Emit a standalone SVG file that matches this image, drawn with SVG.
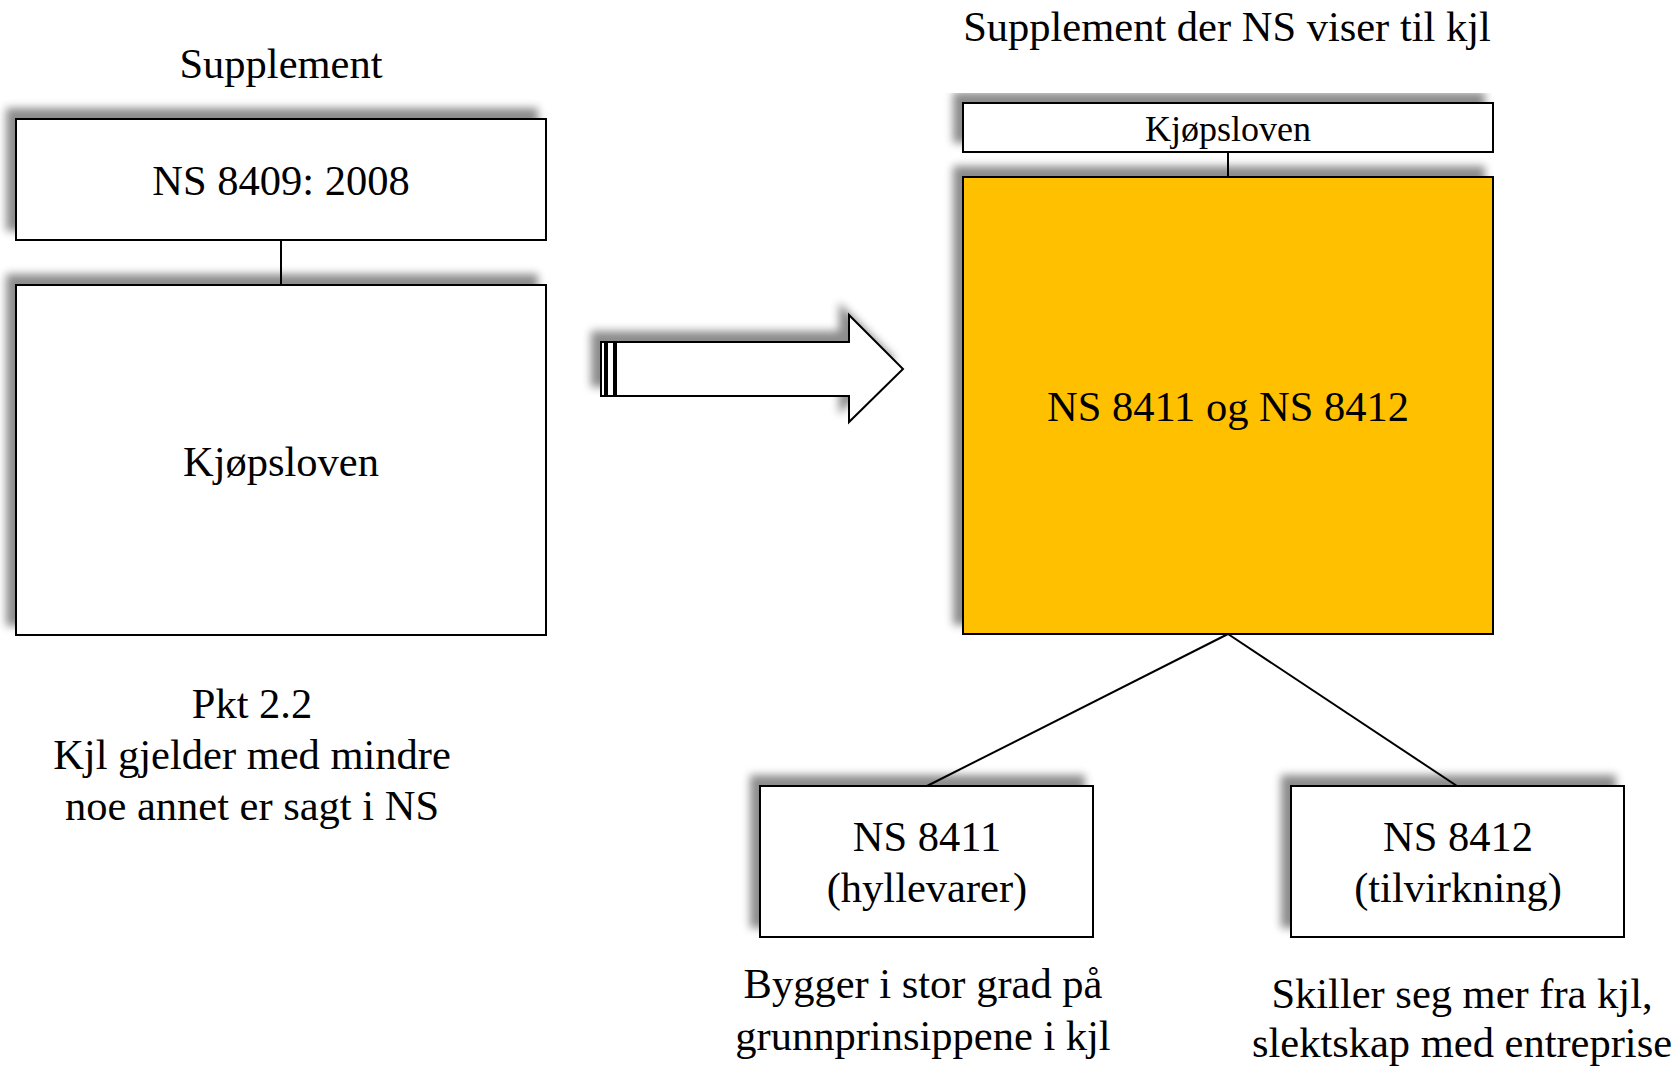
<svg xmlns="http://www.w3.org/2000/svg" width="1679" height="1069" viewBox="0 0 1679 1069">
<defs>
<filter id="sh" x="-10%" y="-20%" width="120%" height="140%">
<feGaussianBlur in="SourceAlpha" stdDeviation="4" result="b"/>
<feOffset in="b" dx="-9" dy="-10" result="o"/>
<feFlood flood-color="#000" flood-opacity="0.45"/>
<feComposite in2="o" operator="in" result="s"/>
<feMerge><feMergeNode in="s"/><feMergeNode in="SourceGraphic"/></feMerge>
</filter>
</defs>
<style>
.box{fill:#fff;stroke:#000;stroke-width:2}
.yel{fill:#FFC000;stroke:#000;stroke-width:2}
.t{font-family:"Liberation Serif","Times New Roman",serif;font-size:42.5px;fill:#000;text-anchor:middle}
.ts{font-family:"Liberation Serif","Times New Roman",serif;font-size:36px;fill:#000;text-anchor:middle}
.ln{stroke:#000;stroke-width:2;fill:none}
</style>
<rect width="1679" height="1069" fill="#fff"/>
<text class="t" x="281" y="78">Supplement</text>
<text class="t" x="1227" y="41">Supplement der NS viser til kjl</text>
<g id="connectors">
<line class="ln" x1="281" y1="240" x2="281" y2="285"/>
<line class="ln" x1="1228" y1="152" x2="1228" y2="177"/>
<line class="ln" x1="1228" y1="634" x2="927" y2="786"/>
<line class="ln" x1="1228" y1="634" x2="1457" y2="786"/>
</g>
<g id="ns8409">
<rect class="box" x="16" y="119" width="530" height="121" filter="url(#sh)"/>
<text class="t" x="281" y="195">NS 8409: 2008</text>
</g>
<g id="kjopsloven-left">
<rect class="box" x="16" y="285" width="530" height="350" filter="url(#sh)"/>
<text class="t" x="281" y="476">Kjøpsloven</text>
</g>
<g id="pkt">
<text class="t" x="252" y="718">Pkt 2.2</text>
<text class="t" x="252" y="769">Kjl gjelder med mindre</text>
<text class="t" x="252" y="820">noe annet er sagt i NS</text>
</g>
<g id="arrow" filter="url(#sh)">
<rect class="box" x="601" y="342" width="4" height="54"/>
<rect class="box" x="607" y="342" width="7" height="54"/>
<polygon class="box" points="616,342 849,342 849,315 903,369 849,422 849,396 616,396"/>
</g>
<g id="kjopsloven-right">
<rect class="box" x="963" y="103" width="530" height="49" filter="url(#sh)"/>
<text class="ts" x="1228" y="141">Kjøpsloven</text>
</g>
<g id="ns8411-8412">
<rect class="yel" x="963" y="177" width="530" height="457" filter="url(#sh)"/>
<text class="t" x="1228" y="421">NS 8411 og NS 8412</text>
</g>
<g id="ns8411">
<rect class="box" x="760" y="786" width="333" height="151" filter="url(#sh)"/>
<text class="t" x="927" y="851">NS 8411</text>
<text class="t" x="927" y="902">(hyllevarer)</text>
</g>
<g id="ns8412">
<rect class="box" x="1291" y="786" width="333" height="151" filter="url(#sh)"/>
<text class="t" x="1458" y="851">NS 8412</text>
<text class="t" x="1458" y="902">(tilvirkning)</text>
</g>
<g id="note-8411">
<text class="t" x="923" y="998">Bygger i stor grad på</text>
<text class="t" x="923" y="1050">grunnprinsippene i kjl</text>
</g>
<g id="note-8412">
<text class="t" x="1462" y="1008">Skiller seg mer fra kjl,</text>
<text class="t" x="1462" y="1057">slektskap med entreprise</text>
</g>
</svg>
